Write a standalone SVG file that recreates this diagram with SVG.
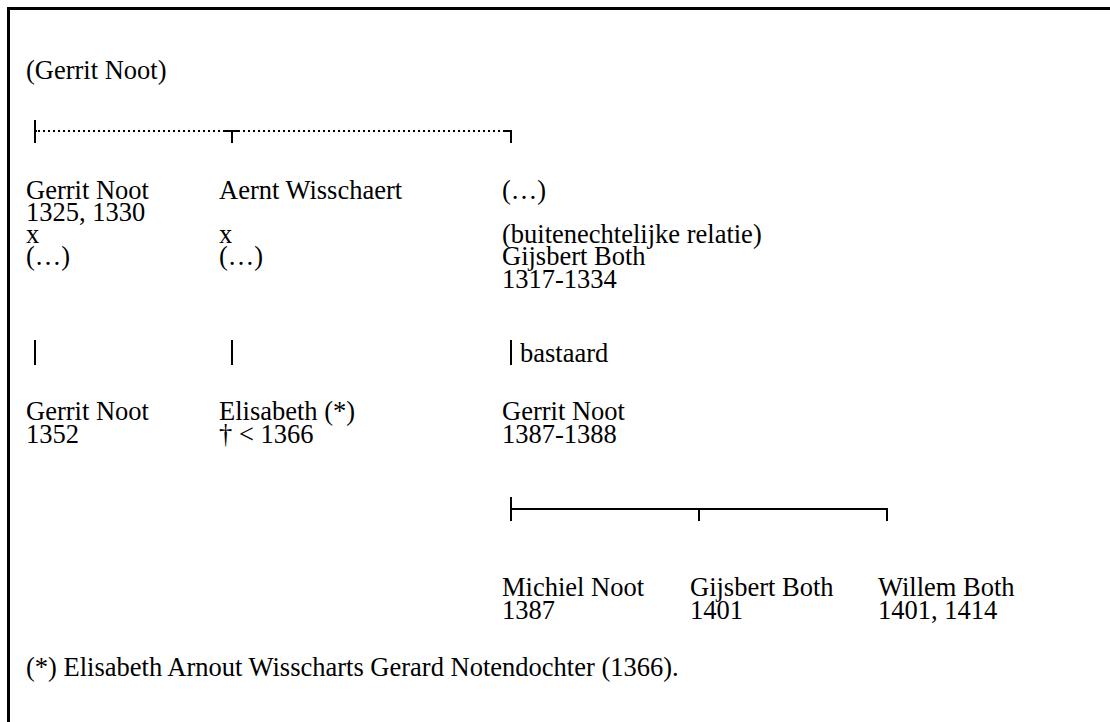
<svg xmlns="http://www.w3.org/2000/svg" width="1110" height="722" viewBox="0 0 1110 722">
<style>
text{font-family:"Liberation Serif","Times New Roman",serif;font-size:26.5px;fill:#000}
.c{stroke:#000;stroke-width:2;fill:none}
.d{stroke:#000;stroke-width:2;fill:none;stroke-dasharray:2 3}
.b{stroke:#000;stroke-width:3;fill:none}
</style>
<rect width="1110" height="722" fill="#fff"/>
<path class="b" d="M8.5 722V8.5H1110"/>
<g id="connectors">
<path class="c" d="M35 120V143M35 131H37"/>
<path class="d" d="M38 131H509"/>
<path class="c" d="M224 131H240M232 131V143M503 131H511V143"/>
<path class="c" d="M35 340V365M232 340V365M511 340V365"/>
<path class="c" d="M511 497V521M511 509H887V521M699 509V521"/>
</g>
<g id="n-root"><text x="26" y="79">(Gerrit Noot)</text></g>
<g id="n-gerrit1"><text x="26" y="199">Gerrit Noot</text><text x="26" y="221">1325, 1330</text><text x="26" y="243">x</text><text x="26" y="265">(…)</text></g>
<g id="n-aernt"><text x="219" y="199">Aernt Wisschaert</text><text x="219" y="243">x</text><text x="219" y="265">(…)</text></g>
<g id="n-unknown"><text x="502" y="199">(…)</text><text x="502" y="243">(buitenechtelijke relatie)</text><text x="502" y="265">Gijsbert Both</text><text x="502" y="288">1317-1334</text></g>
<g id="n-bastaard"><text x="520" y="362">bastaard</text></g>
<g id="n-gerrit2"><text x="26" y="420">Gerrit Noot</text><text x="26" y="443">1352</text></g>
<g id="n-elisabeth"><text x="219" y="420">Elisabeth (*)</text><text x="219" y="443">† &lt; 1366</text></g>
<g id="n-gerrit3"><text x="502" y="420">Gerrit Noot</text><text x="502" y="443">1387-1388</text></g>
<g id="n-michiel"><text x="502" y="596">Michiel Noot</text><text x="502" y="619">1387</text></g>
<g id="n-gijsbert"><text x="690" y="596">Gijsbert Both</text><text x="690" y="619">1401</text></g>
<g id="n-willem"><text x="878" y="596">Willem Both</text><text x="878" y="619">1401, 1414</text></g>
<g id="n-note"><text x="26" y="676">(*) Elisabeth Arnout Wisscharts Gerard Notendochter (1366).</text></g>
</svg>
